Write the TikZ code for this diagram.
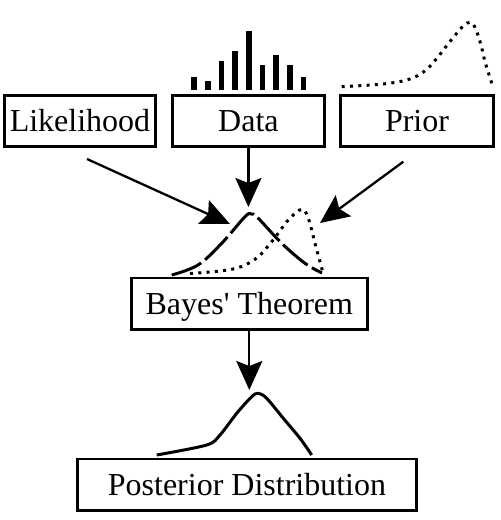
\documentclass[tikz,border=0pt]{standalone}
\usepackage{fontspec}
\newfontfamily\tnr{Liberation Serif}
\usetikzlibrary{arrows.meta}
\begin{document}
\begin{tikzpicture}[x=1pt,y=-1pt,
  box/.style={draw,line width=2.9pt,inner sep=0pt,font=\tnr\fontsize{32}{38}\selectfont,text height=21pt,text depth=0pt,minimum height=50.5pt},
  conn/.style={line width=2.3pt,-{Stealth[length=29pt,width=26pt,inset=5pt]}},
  curve/.style={line width=3pt},
  dotcurve/.style={curve,dash pattern=on 3pt off 5.3pt},
  dashcurve/.style={curve,dash pattern=on 32pt off 5pt},
  bar/.style={fill=black}]
\useasboundingbox (0,0) rectangle (501,520);

% boxes
\node[box,minimum width=150.5pt] (L) at (80,121) {Likelihood};
\node[box,minimum width=152.4pt] (D) at (248.4,121) {Data};
\node[box,minimum width=152.5pt] (P) at (417,121) {Prior};
\node[box,minimum width=235.6pt,minimum height=51.6pt] (B) at (249.3,303.8) {Bayes' Theorem};
\node[box,minimum width=339.1pt,minimum height=51.1pt] (Q) at (247,484.5) {Posterior Distribution};

% data bars
\foreach \c/\t in {194/77.3, 207.7/81, 221.4/60.7, 235.1/51.3, 248.8/31.3, 262.5/65.3, 276.2/55.3, 289.9/64.7, 303.6/77.3}
  \fill[bar] (\c-2.8,90) rectangle (\c+2.8,\t);

% prior curve
\draw[dotcurve] plot[smooth,tension=0.6] coordinates {(341.7,86.7) (383.3,84) (409,79.3) (424.3,71.3) (436,59.3) (452,39) (463.3,26) (470.7,22.3) (475.7,29) (481,45) (485,61.7) (492.7,86)};

% curves above Bayes
\draw[dashcurve] plot[smooth,tension=0.6] coordinates {(171.7,275) (198,265) (221.7,243.3) (245,216.7) (251.5,214) (258,218) (281.7,243.3) (305,263.3) (322,273)};
\draw[dotcurve] plot[smooth,tension=0.6] coordinates {(190,273.5) (231.7,269.3) (255,259.3) (271.7,241.7) (288.3,220) (301.7,209.3) (308.3,218.3) (315,243.3) (323.3,274)};

% posterior curve
\draw[curve] plot[smooth,tension=0.5] coordinates {(156.7,455) (206.7,445) (220,435) (236.7,413.3) (251.7,396.7) (258.3,393.3) (266.7,398.3) (283.3,418.3) (300,438.3) (311.7,455)};

% connectors
\coordinate (ls) at (87,159);
\coordinate (lt) at (230,224);
\coordinate (ps) at (403.3,161.7);
\coordinate (pt) at (320,223);
\coordinate (dt) at (248.4,207);
\coordinate (bt) at (249.3,390);
\draw[conn] (ls) -- (lt);
\draw[conn] (D.south) -- (dt);
\draw[conn] (ps) -- (pt);
\draw[conn] (B.south) -- (bt);
\end{tikzpicture}
\end{document}
